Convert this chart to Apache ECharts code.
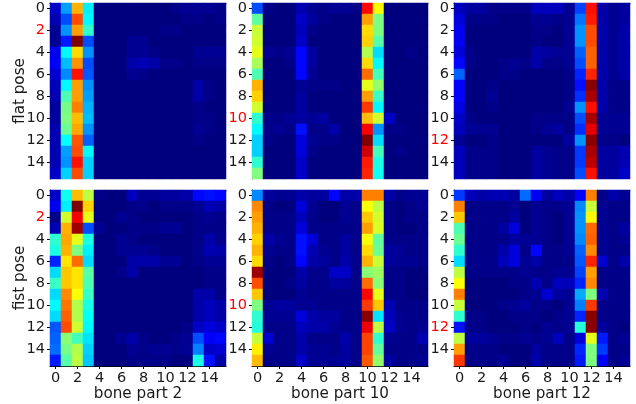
<!DOCTYPE html>
<html><head><meta charset="utf-8">
<script src="https://cdn.jsdelivr.net/npm/echarts@6/dist/echarts.min.js"></script>
<style>html,body{margin:0;padding:0;background:#fff}#c{width:636px;height:404px}</style>
</head><body><div id="c"></div>
<script>
const indices=[0,1,2,3,4,5,6,7,8,9,10,11,12,13,14,15];
const jetColors=['#00007f','#0000ff','#007fff','#00ffff','#7fff7f','#ffff00','#ff7f00','#ff0000','#7f0000'];
const flatBone2=[
[7,28,70,36,0,0,0,0,0,0,0,1,2,2,2,1],
[5,20,80,37,0,0,0,0,0,0,0,0,1,1,0,1],
[2,27,72,42,0,0,0,0,0,0,1,1,0,0,0,0],
[2,15,100,20,0,0,0,2,2,0,0,0,0,0,0,0],
[11,37,66,27,0,0,0,2,2,1,0,0,0,2,2,2],
[12,31,73,20,0,0,0,4,5,4,1,1,0,1,1,1],
[8,26,86,21,0,0,0,2,1,0,0,0,0,0,0,0],
[6,37,72,27,0,0,0,0,0,0,0,0,0,4,1,0],
[5,45,72,28,0,0,0,0,0,0,0,0,0,4,1,0],
[3,49,75,30,0,0,0,0,0,0,0,0,0,1,0,0],
[3,50,69,31,0,0,0,0,0,0,0,0,0,1,1,0],
[5,48,71,27,0,0,0,0,0,0,0,0,0,2,1,0],
[5,38,79,22,0,0,0,0,0,0,0,0,0,1,0,0],
[5,28,80,37,0,0,0,0,0,0,0,0,0,0,0,0],
[5,27,86,33,0,0,0,0,0,0,0,0,0,0,0,0],
[7,33,80,33,0,0,0,0,0,0,0,0,0,0,0,0]];
const flatBone10=[
[20,1,0,0,5,2,1,2,2,1,87,63,0,0,0,0],
[47,0,0,0,7,3,1,0,0,0,72,50,0,0,0,0],
[57,0,0,0,6,1,0,0,0,0,66,50,0,0,0,0],
[58,0,0,0,7,0,0,0,0,0,67,46,0,0,0,0],
[60,2,1,2,13,3,0,0,0,0,55,34,0,0,1,0],
[54,0,0,1,13,3,0,0,0,0,66,37,0,0,0,0],
[45,0,0,0,13,2,0,0,0,0,77,44,0,0,0,0],
[70,0,0,0,2,1,1,1,0,0,60,52,0,0,0,0],
[67,0,0,0,3,0,0,0,0,0,72,43,0,0,0,0],
[58,0,0,0,3,0,0,0,0,0,82,37,0,0,0,0],
[42,1,1,2,3,2,3,0,0,0,69,58,7,0,0,0],
[37,1,2,1,14,1,1,4,0,0,88,27,1,1,0,0],
[33,1,0,0,9,2,1,1,0,0,100,34,0,0,0,0],
[33,0,0,0,9,1,0,0,0,0,92,44,0,1,0,0],
[42,0,0,0,7,0,0,0,0,0,85,40,0,0,0,0],
[50,0,0,0,7,0,0,0,0,0,84,39,0,0,0,0]];
const flatBone12=[
[6,3,3,1,1,1,1,6,6,6,2,19,86,4,2,3],
[9,1,1,1,0,0,0,2,2,1,2,24,85,4,2,3],
[11,0,0,0,0,0,0,1,1,0,2,27,80,4,2,4],
[11,0,0,0,0,0,0,1,0,0,2,27,80,4,2,4],
[9,1,0,0,0,0,0,4,3,2,2,22,78,4,2,4],
[13,1,0,0,1,2,1,4,1,1,2,20,78,4,2,4],
[22,0,0,0,1,1,0,0,0,0,1,16,84,4,2,4],
[12,0,0,1,0,0,0,0,0,0,1,14,99,4,1,1],
[12,0,0,2,0,0,0,0,0,0,1,17,96,4,1,1],
[10,0,0,1,0,0,0,0,0,0,2,27,86,4,1,1],
[7,1,0,0,0,0,0,1,1,1,1,20,96,2,2,2],
[6,2,2,2,0,0,0,1,2,3,1,17,90,2,2,2],
[2,0,0,1,0,0,0,0,0,0,3,27,99,1,1,0],
[6,1,1,1,0,0,0,3,2,1,1,18,96,3,3,5],
[6,1,1,1,0,0,0,3,2,1,1,18,94,3,3,5],
[6,1,1,1,0,0,0,3,2,1,1,20,86,3,3,7]];
const fistBone2=[
[7,39,69,56,1,0,0,6,2,2,3,3,4,13,14,13],
[11,36,100,67,0,0,0,1,1,0,1,1,1,2,5,4],
[1,58,88,60,0,0,2,1,0,0,0,0,0,1,2,1],
[5,70,97,20,2,0,0,1,1,1,2,2,0,1,1,1],
[42,71,60,40,0,0,2,1,0,0,0,0,0,1,4,1],
[40,70,50,36,0,0,2,2,2,1,0,0,0,1,5,4],
[16,65,77,34,0,0,0,4,4,4,2,2,0,1,2,2],
[34,68,65,46,0,0,1,4,0,0,0,0,0,0,1,1],
[43,68,65,45,0,0,0,0,0,0,0,0,0,0,1,1],
[34,74,62,43,0,0,0,0,0,0,0,0,0,4,4,1],
[37,76,55,40,0,0,0,0,0,0,0,0,0,4,6,4],
[34,78,55,38,0,0,0,0,0,0,0,0,0,4,6,4],
[21,80,58,37,0,0,0,0,0,0,0,0,1,7,9,7],
[22,51,44,35,0,0,2,4,1,0,0,1,2,20,12,13],
[23,49,55,33,0,0,0,2,1,2,2,1,2,25,7,8],
[15,46,56,32,0,0,0,1,1,1,1,0,0,40,14,4]];
const fistBone10=[
[26,3,2,2,4,3,3,13,4,4,75,75,4,1,2,2],
[74,1,0,0,9,2,0,0,2,1,62,56,1,0,1,2],
[72,1,1,1,6,1,0,0,2,1,68,58,1,0,1,1],
[70,1,1,1,9,1,1,1,1,1,72,59,1,0,0,1],
[67,4,2,1,14,9,1,1,3,1,62,47,1,1,1,1],
[70,2,1,1,14,5,2,1,3,1,66,48,3,2,1,1],
[66,1,0,1,13,4,3,1,4,1,70,57,3,2,2,1],
[97,0,0,0,4,1,1,7,7,1,51,53,1,1,0,0],
[80,0,0,1,3,1,1,3,3,1,77,51,1,1,0,0],
[68,0,0,0,2,1,1,1,1,1,87,60,1,1,0,0],
[50,2,3,3,2,2,1,1,1,1,82,68,5,1,1,1],
[42,2,2,2,9,4,3,3,1,1,99,35,6,2,1,1],
[41,1,1,1,6,4,4,2,1,1,89,56,7,2,1,2],
[57,8,1,1,4,1,1,1,4,1,81,42,2,1,1,5],
[64,2,1,1,4,2,2,1,3,1,81,47,1,1,1,1],
[69,1,1,1,7,2,2,2,3,1,79,52,3,1,1,2]];
const fistBone12=[
[18,6,4,5,5,3,23,11,3,6,4,12,75,1,4,2],
[75,1,1,1,1,2,0,2,1,1,2,26,57,2,1,1],
[68,1,1,1,1,3,0,2,1,0,2,27,63,2,1,1],
[45,1,1,1,3,9,0,2,1,0,2,27,77,2,1,3],
[48,1,1,1,1,3,2,2,1,0,2,26,78,2,1,2],
[42,1,1,1,4,9,1,13,1,1,2,22,74,2,1,1],
[34,1,1,1,6,9,2,4,1,1,1,21,84,8,1,4],
[56,1,1,1,1,1,2,1,1,2,2,19,72,1,1,1],
[62,0,0,0,0,1,1,5,1,6,6,16,74,1,1,1],
[75,0,0,0,0,0,1,2,8,3,2,29,50,5,1,1],
[57,0,0,0,1,2,3,1,1,0,2,25,82,1,1,1],
[42,1,1,0,0,1,1,1,0,1,2,16,99,1,1,1],
[14,1,1,0,0,0,1,0,2,1,2,41,99,3,1,0],
[56,3,3,2,1,1,2,1,2,6,1,9,60,15,1,2],
[72,1,1,1,0,0,0,3,1,1,1,16,50,18,1,1],
[82,1,1,1,2,0,0,4,1,1,1,15,50,12,1,2]];
const tickLabels=indices.map(String);
const yRed=[2,10,12];
const poseNames=['flat pose','fist pose'];
const partNames=['bone part 2','bone part 10','bone part 12'];
const panels=[flatBone2,flatBone10,flatBone12,fistBone2,fistBone10,fistBone12];
const lefts=[50,252,454], tops=[3,190], size=176;
const font='"DejaVu Sans"';
const grids=[],xAxes=[],yAxes=[],series=[];
panels.forEach((m,i)=>{
  const col=i%3,row=i<3?0:1;
  grids.push({left:lefts[col],top:tops[row],width:size,height:size});
  const cells=[];
  m.forEach((r,y)=>r.forEach((v,x)=>cells.push([x,y,v])));
  xAxes.push({type:'category',gridIndex:i,data:tickLabels,position:'bottom',
    axisLine:{show:row===1,onZero:false,lineStyle:{color:'#000',width:1}},
    axisTick:{show:row===1,alignWithLabel:true,interval:1,length:3,lineStyle:{color:'#000'}},
    axisLabel:{show:row===1,interval:1,color:'#1a1a1a',fontFamily:font,fontSize:14.5,margin:5},
    splitLine:{show:false},splitArea:{show:false},
    name:row===1?partNames[col]:'',nameLocation:'middle',nameGap:20.5,nameMoveOverlap:false,
    nameTextStyle:{color:'#1a1a1a',fontFamily:font,fontSize:15.2}});
  xAxes.push({type:'category',gridIndex:i,data:tickLabels,position:'top',
    axisLine:{show:true,onZero:false,lineStyle:{color:'#000',width:1}},
    axisTick:{show:false},axisLabel:{show:false},splitLine:{show:false}});
  const red=yRed[col];
  yAxes.push({type:'category',gridIndex:i,data:tickLabels,inverse:true,position:'left',
    axisLine:{show:true,onZero:false,lineStyle:{color:'#000',width:1}},
    axisTick:{show:true,alignWithLabel:true,interval:1,length:3,lineStyle:{color:'#000'}},
    axisLabel:{interval:1,fontFamily:font,fontSize:14.5,margin:5,
      color:(v)=>Number(v)===red?'#ff0000':'#1a1a1a'},
    splitLine:{show:false},splitArea:{show:false},
    name:col===0?poseNames[row]:'',nameLocation:'middle',nameGap:22,nameMoveOverlap:false,
    nameTextStyle:{color:'#1a1a1a',fontFamily:font,fontSize:15.2}});
  series.push({type:'heatmap',xAxisIndex:i*2,yAxisIndex:i,data:cells,
    progressive:0,animation:false,emphasis:{disabled:true},
    itemStyle:{borderWidth:0}});
});
const chart=echarts.init(document.getElementById('c'),null,{renderer:'canvas'});
chart.setOption({animation:false,backgroundColor:'#fff',
  grid:grids,xAxis:xAxes,yAxis:yAxes,series,
  visualMap:{show:false,min:0,max:100,calculable:false,dimension:2,seriesIndex:series.map((s,i)=>i),inRange:{color:jetColors}}});
</script></body></html>
